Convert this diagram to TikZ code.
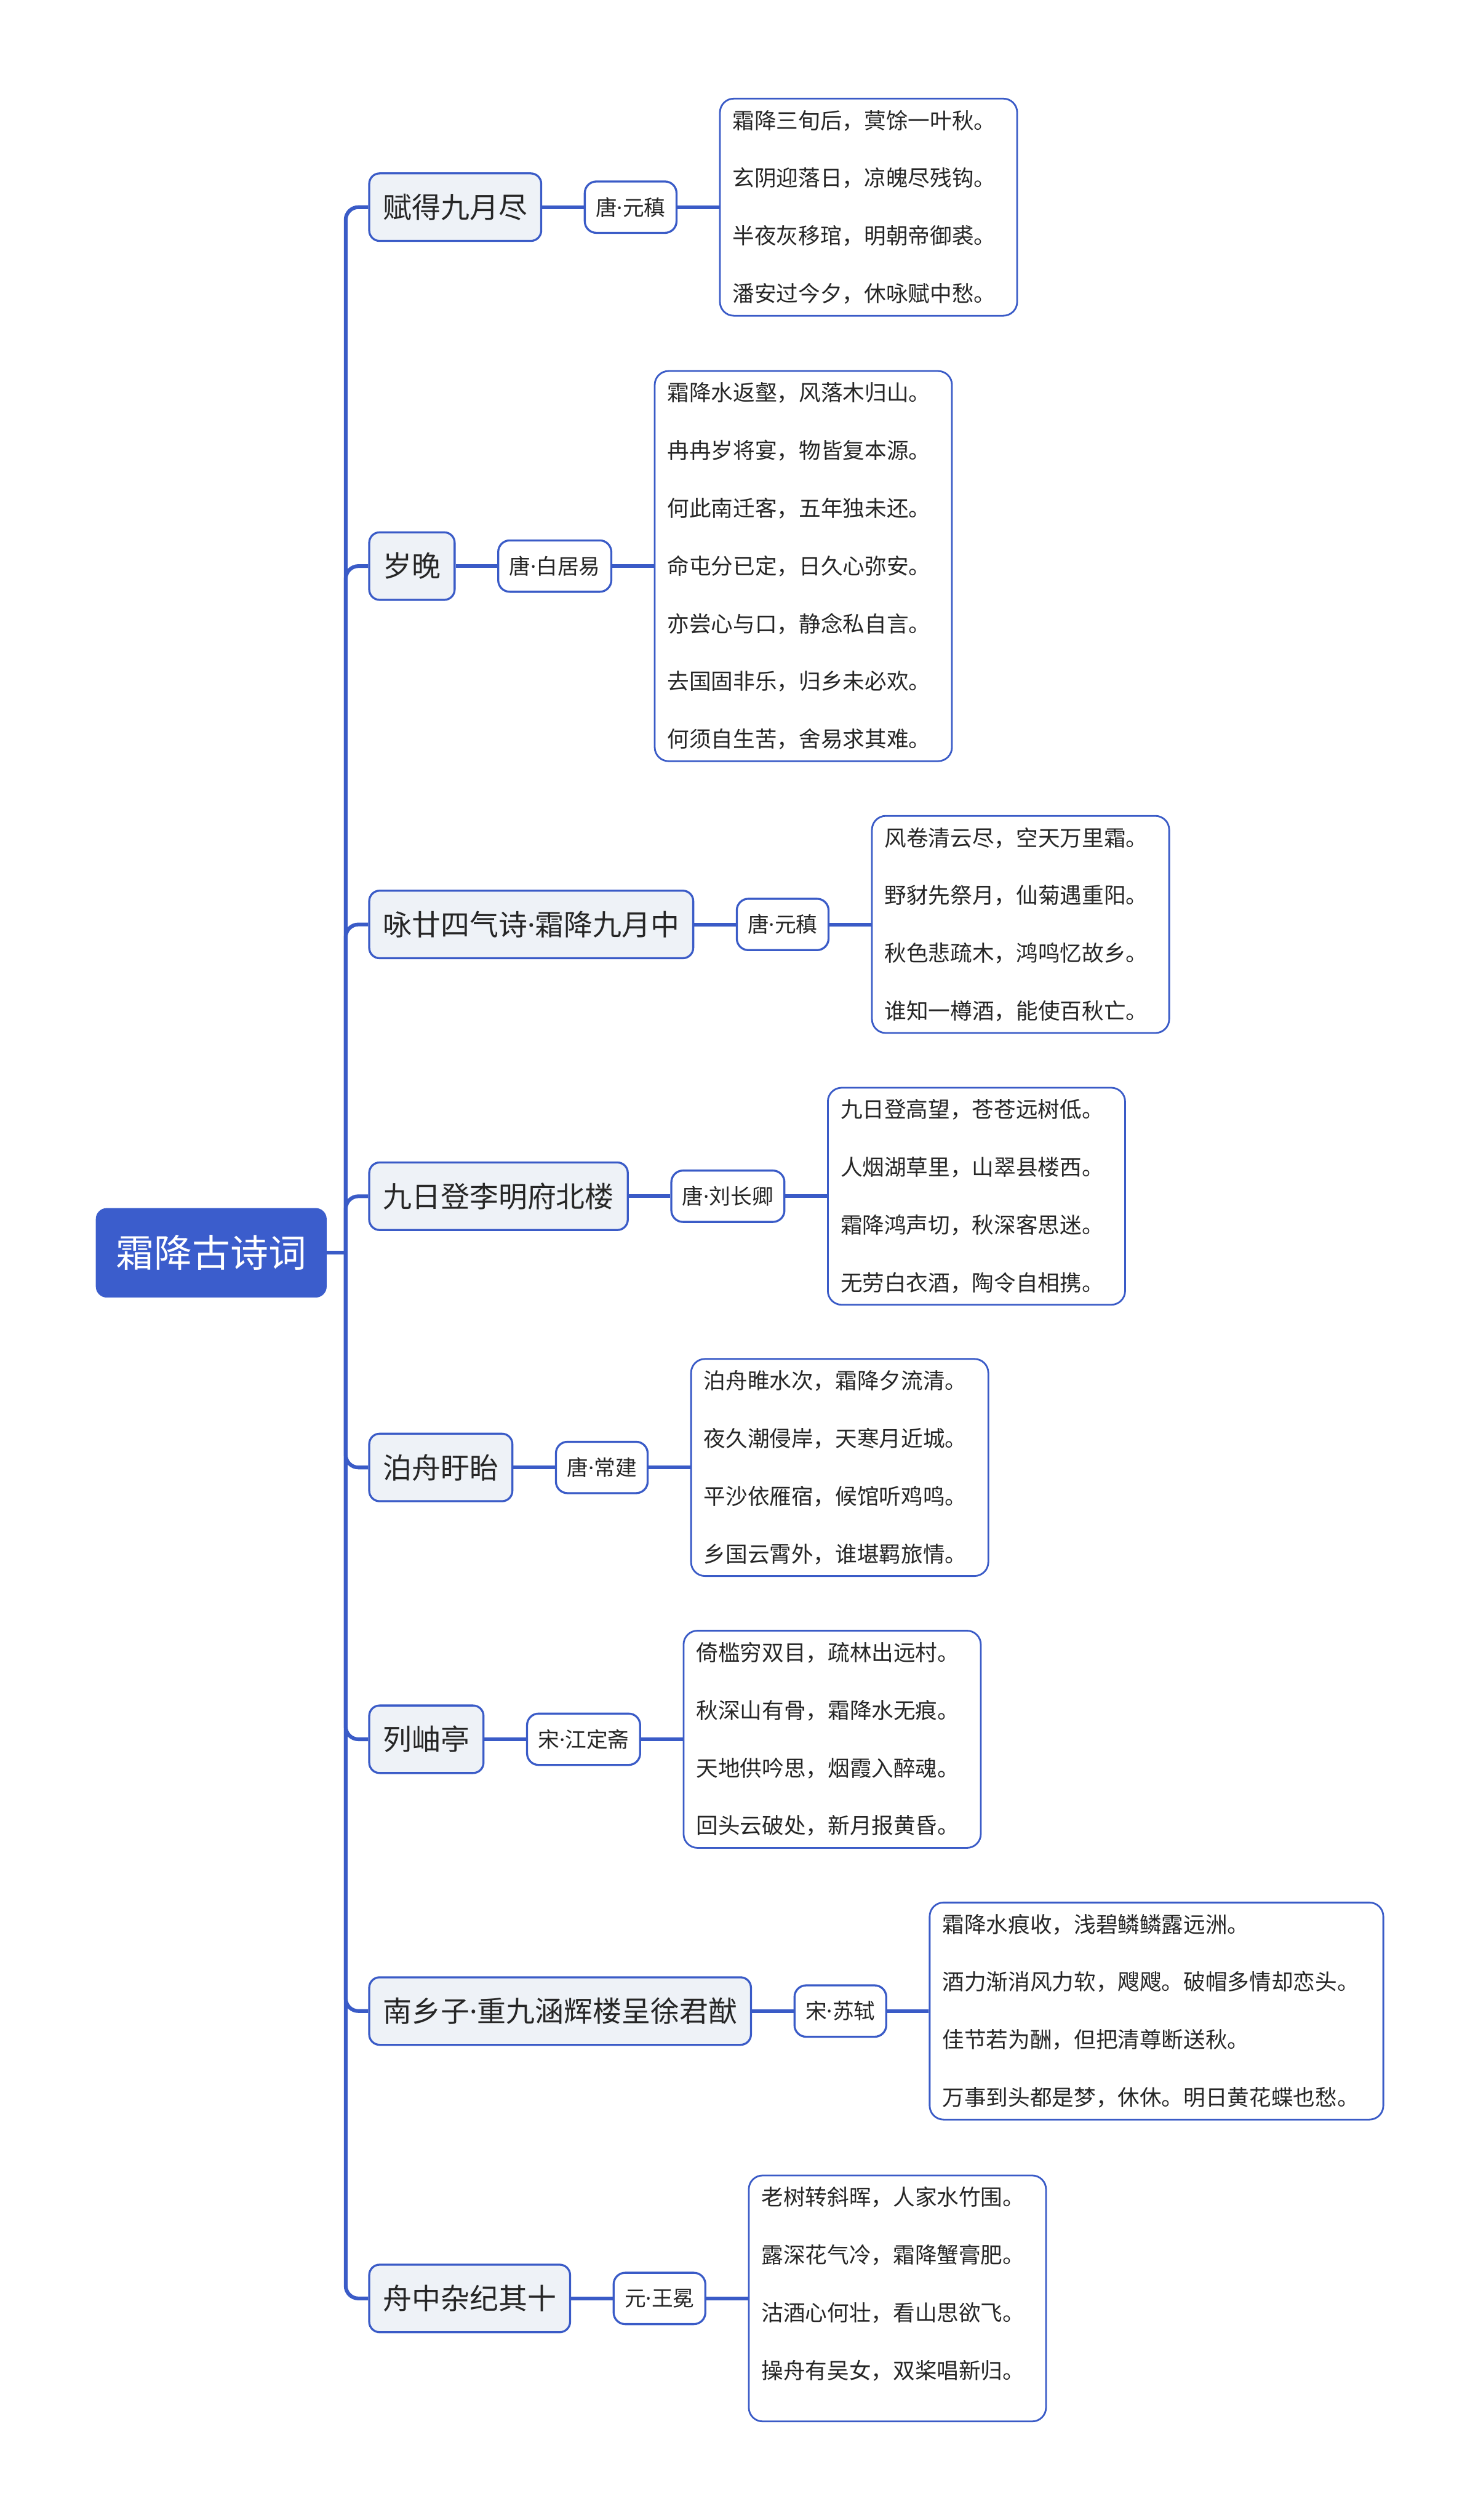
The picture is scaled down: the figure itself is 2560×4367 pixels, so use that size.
\documentclass[tikz,border=0pt]{standalone}
\usepackage{fontspec}
\setmainfont{Noto Sans CJK SC}
\newfontfamily\latinf{Noto Sans}
\newcommand{\mdt}{{\latinf ·}}
\usetikzlibrary{positioning}
\definecolor{lineblue}{HTML}{3A5BC7}
\definecolor{rootblue}{HTML}{3B5DCC}
\definecolor{lvlfill}{HTML}{EEF2F7}
\definecolor{txt}{HTML}{262626}
\begin{document}
\begin{tikzpicture}[x=1pt,y=-1pt,
  conn/.style={draw=lineblue, line width=6.5pt},
  spine/.style={draw=lineblue, line width=6.5pt, rounded corners=22pt},
  rootbox/.style={fill=rootblue, draw=rootblue, line width=2pt, rounded corners=18pt, text=white,
    font=\fontsize{66}{80}\selectfont, minimum width=398pt, minimum height=153pt, inner sep=0pt},
  titlebox/.style={fill=lvlfill, draw=lineblue, line width=3.5pt, rounded corners=18pt, text=txt,
    font=\fontsize{50}{60}\selectfont, minimum height=117pt, inner xsep=24pt, inner ysep=0pt, anchor=west},
  authorbox/.style={fill=white, draw=lineblue, line width=3.5pt, rounded corners=20pt, text=txt,
    font=\fontsize{37}{44}\selectfont, minimum height=89pt, inner xsep=19pt, inner ysep=0pt},
  poembox/.style={fill=white, draw=lineblue, line width=3pt, rounded corners=24pt, text=txt,
    font=\fontsize{38}{100}\selectfont, align=left, text width=471pt, inner xsep=22pt, inner ysep=20pt},
  widepoem/.style={poembox, text width=742pt}
]
\useasboundingbox[fill=white] (0,0) rectangle (2560,4367);

\node[rootbox] (root) at (366,2171) {霜降古诗词};
\coordinate (sj) at (599,2171);

% branch 1
\node[titlebox] (t1) at (638,359) {赋得九月尽};
\node[authorbox, right=72pt of t1] (a1) {唐\mdt 元稹};
\node[poembox, right=72pt of a1] (p1) {霜降三旬后，蓂馀一叶秋。\\玄阴迎落日，凉魄尽残钩。\\半夜灰移琯，明朝帝御裘。\\潘安过今夕，休咏赋中愁。};

% branch 2
\node[titlebox] (t2) at (638,981) {岁晚};
\node[authorbox, right=72pt of t2] (a2) {唐\mdt 白居易};
\node[poembox, right=72pt of a2] (p2) {霜降水返壑，风落木归山。\\冉冉岁将宴，物皆复本源。\\何此南迁客，五年独未还。\\命屯分已定，日久心弥安。\\亦尝心与口，静念私自言。\\去国固非乐，归乡未必欢。\\何须自生苦，舍易求其难。};

% branch 3
\node[titlebox] (t3) at (638,1602) {咏廿四气诗\mdt 霜降九月中};
\node[authorbox, right=72pt of t3] (a3) {唐\mdt 元稹};
\node[poembox, right=72pt of a3] (p3) {风卷清云尽，空天万里霜。\\野豺先祭月，仙菊遇重阳。\\秋色悲疏木，鸿鸣忆故乡。\\谁知一樽酒，能使百秋亡。};

% branch 4
\node[titlebox] (t4) at (638,2073) {九日登李明府北楼};
\node[authorbox, right=72pt of t4] (a4) {唐\mdt 刘长卿};
\node[poembox, right=72pt of a4] (p4) {九日登高望，苍苍远树低。\\人烟湖草里，山翠县楼西。\\霜降鸿声切，秋深客思迷。\\无劳白衣酒，陶令自相携。};

% branch 5
\node[titlebox] (t5) at (638,2543) {泊舟盱眙};
\node[authorbox, right=72pt of t5] (a5) {唐\mdt 常建};
\node[poembox, right=72pt of a5] (p5) {泊舟睢水次，霜降夕流清。\\夜久潮侵岸，天寒月近城。\\平沙依雁宿，候馆听鸡鸣。\\乡国云霄外，谁堪羁旅情。};

% branch 6
\node[titlebox] (t6) at (638,3014) {列岫亭};
\node[authorbox, right=72pt of t6] (a6) {宋\mdt 江定斋};
\node[poembox, right=72pt of a6] (p6) {倚槛穷双目，疏林出远村。\\秋深山有骨，霜降水无痕。\\天地供吟思，烟霞入醉魂。\\回头云破处，新月报黄昏。};

% branch 7
\node[titlebox] (t7) at (638,3485) {南乡子\mdt 重九涵辉楼呈徐君猷};
\node[authorbox, right=72pt of t7] (a7) {宋\mdt 苏轼};
\node[widepoem, right=72pt of a7] (p7) {霜降水痕收，浅碧鳞鳞露远洲。\\酒力渐消风力软，飕飕。破帽多情却恋头。\\佳节若为酬，但把清尊断送秋。\\万事到头都是梦，休休。明日黄花蝶也愁。};

% branch 8
\node[titlebox] (t8) at (638,3983) {舟中杂纪其十};
\node[authorbox, right=72pt of t8] (a8) {元\mdt 王冕};
\node[poembox, right=72pt of a8] (p8) {老树转斜晖，人家水竹围。\\露深花气冷，霜降蟹膏肥。\\沽酒心何壮，看山思欲飞。\\操舟有吴女，双桨唱新归。\par\vspace*{50pt}};

% connectors
\draw[conn] (root.east) -- (sj);
\foreach \i in {1,...,8} {
  \draw[spine] (sj) |- (t\i.west);
  \draw[conn] (t\i.east) -- (a\i.west);
  \draw[conn] (a\i.east) -- (p\i.west);
}
\end{tikzpicture}
\end{document}
